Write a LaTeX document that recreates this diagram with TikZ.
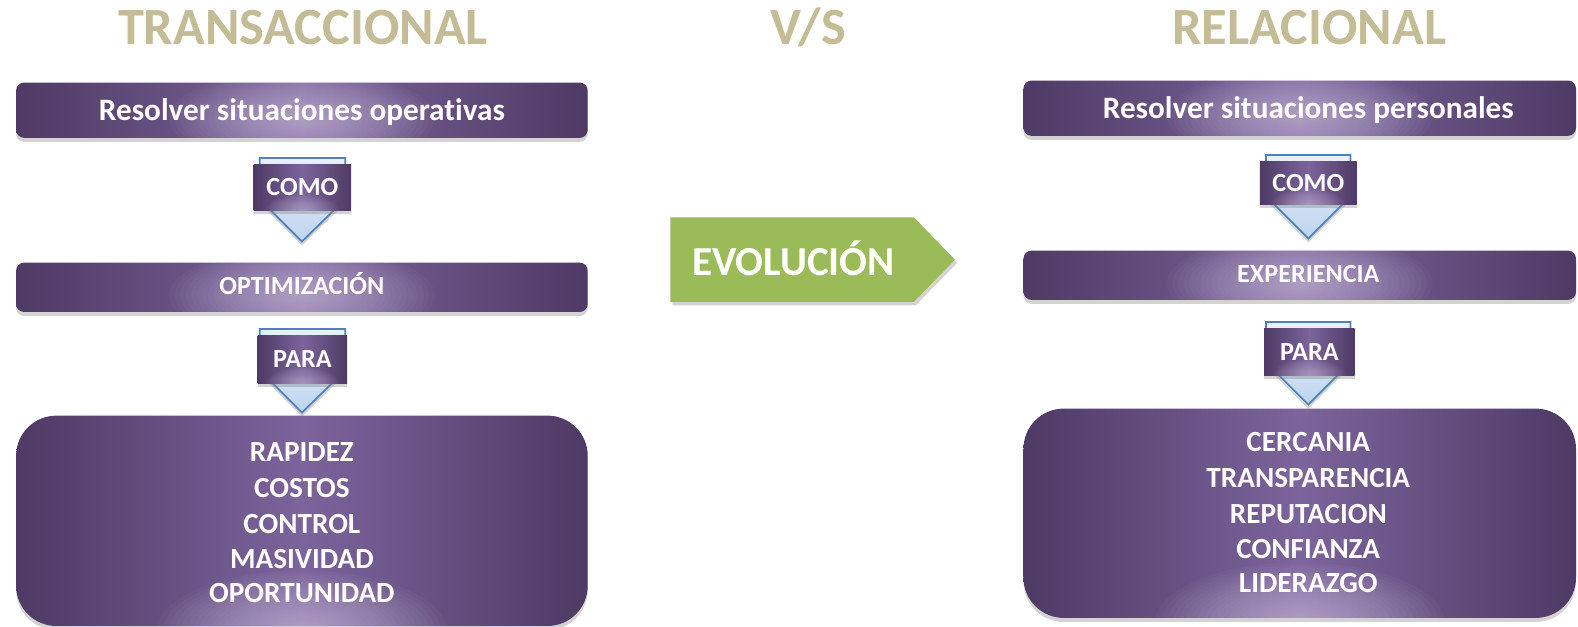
\documentclass[tikz,border=0pt]{standalone}
\usepackage{fontspec}
\setmainfont{Carlito}[Ligatures=NoCommon, Contextuals=NoAlternate]
\usetikzlibrary{shadows,calc}
\definecolor{titletan}{RGB}{196,188,150}
\definecolor{pdark}{RGB}{78,58,100}
\definecolor{pmid}{RGB}{124,100,156}
\definecolor{pglow}{RGB}{222,210,238}
\definecolor{bline}{RGB}{79,129,189}
\definecolor{bfill}{RGB}{190,212,238}
\definecolor{gfill}{RGB}{155,187,89}
\begin{document}
\begin{tikzpicture}[x=0.75pt,y=-0.75pt,
  pshadow/.style={drop shadow={shadow xshift=0pt,shadow yshift=-3pt,opacity=.35}},
  pfill/.style={draw=none, left color=pdark, right color=pdark, middle color=pmid, pshadow},
  bar/.style 2 args={pfill, rounded corners=6pt, inner sep=0pt,
    minimum width=#1*0.75pt, minimum height=#2*0.75pt,
    path picture={\foreach \k in {1,...,24}{\fill[pglow,opacity=.035] ($(path picture bounding box.center)+(0,8)$) ellipse ({\k*5.5} and {\k*2});}}},
  bigbox/.style 2 args={pfill, rounded corners=30pt, inner sep=0pt,
    minimum width=#1*0.75pt, minimum height=#2*0.75pt,
    path picture={\foreach \k in {1,...,24}{\fill[pglow,opacity=.035] ($(path picture bounding box.south)+(0,5)$) ellipse ({\k*6} and {\k*2.5});}}},
  lab/.style 2 args={pfill, inner sep=0pt,
    minimum width=#1*0.75pt, minimum height=#2*0.75pt,
    path picture={\foreach \k in {1,...,16}{\fill[pglow,opacity=.04] (path picture bounding box.south) ellipse ({\k*2.25} and {\k*1});}}},
  chev/.style={draw=bline, line width=1.3pt, line join=miter, top color=bfill!35, bottom color=bfill, pshadow},
  ttl/.style={anchor=base, text=titletan, font=\fontsize{39pt}{45pt}\selectfont\bfseries},
  bigtxt/.style={anchor=base, text=white, font=\fontsize{23.25pt}{28pt}\selectfont\bfseries},
  midtxt/.style={anchor=base, text=white, font=\fontsize{19.5pt}{24pt}\selectfont\bfseries},
  listtxt/.style={anchor=base, text=white, font=\fontsize{21.75pt}{26pt}\selectfont\bfseries},
  evotxt/.style={anchor=base, text=white, font=\fontsize{30.75pt}{36pt}\selectfont\bfseries}
]
\useasboundingbox (0,0) rectangle (1568,623);

% titles
\node[ttl] (tL) at (301,44.7) {TRANSACCIONAL};
\node[ttl] (tM) at (803,44.7) {V/S};
\node[ttl] (tR) at (1301,44.7) {RELACIONAL};

% ---------- left column ----------
\node[bar={568}{55}] (L1) at (300,109.5) {};
\node[bigtxt] (L1t) at (300,120) {Resolver situaciones operativas};

\draw[chev] (258,157) -- (343,157) -- (343,198) -- (300,240) -- (258,198) -- cycle;
\node[lab={97}{46}] (Lc) at (300.5,186) {};
\node[midtxt] (Lct) at (300.5,194) {COMO};

\node[bar={568}{49}] (L2) at (300,285.5) {};
\node[midtxt] (L2t) at (300,293) {OPTIMIZACIÓN};

\draw[chev] (258,327) -- (343,327) -- (343,368) -- (300,410) -- (258,368) -- cycle;
\node[lab={89}{48}] (Lp) at (300.5,357) {};
\node[midtxt] (Lpt) at (300.5,365.5) {PARA};

\node[bigbox={568}{209}] (L3) at (300,517.5) {};
\node[listtxt] (La) at (300,459) {RAPIDEZ};
\node[listtxt] (Lb) at (300,494) {COSTOS};
\node[listtxt] (Lcc) at (300,530) {CONTROL};
\node[listtxt] (Ld) at (300,565) {MASIVIDAD};
\node[listtxt] (Le) at (300,599) {OPORTUNIDAD};

% ---------- middle arrow ----------
\fill[gfill, drop shadow={shadow xshift=1.5pt,shadow yshift=-2.5pt,opacity=.35}]
  (666,216) -- (908,216) -- (949,258) -- (908,300) -- (666,300) -- cycle;
\node[evotxt] (evo) at (788.5,274) {EVOLUCIÓN};

% ---------- right column ----------
\node[bar={549}{55}] (R1) at (1291.5,107.5) {};
\node[bigtxt] (R1t) at (1300,118) {Resolver situaciones personales};

\draw[chev] (1258,154) -- (1342,154) -- (1342,195) -- (1300,237) -- (1258,195) -- cycle;
\node[lab={96}{43}] (Rc) at (1300,181.5) {};
\node[midtxt] (Rct) at (1300,190) {COMO};

\node[bar={549}{49}] (R2) at (1291.5,273.5) {};
\node[midtxt] (R2t) at (1300,281) {EXPERIENCIA};

\draw[chev] (1258,320) -- (1342,320) -- (1342,360) -- (1300,402) -- (1258,360) -- cycle;
\node[lab={90}{47}] (Rp) at (1301,349.5) {};
\node[midtxt] (Rpt) at (1301,358) {PARA};

\node[bigbox={549}{208}] (R3) at (1291.5,510) {};
\node[listtxt] (Ra) at (1300,449) {CERCANIA};
\node[listtxt] (Rb) at (1300,484) {TRANSPARENCIA};
\node[listtxt] (Rcc) at (1300,520) {REPUTACION};
\node[listtxt] (Rd) at (1300,554.5) {CONFIANZA};
\node[listtxt] (Re) at (1300,589) {LIDERAZGO};
\end{tikzpicture}
\end{document}
